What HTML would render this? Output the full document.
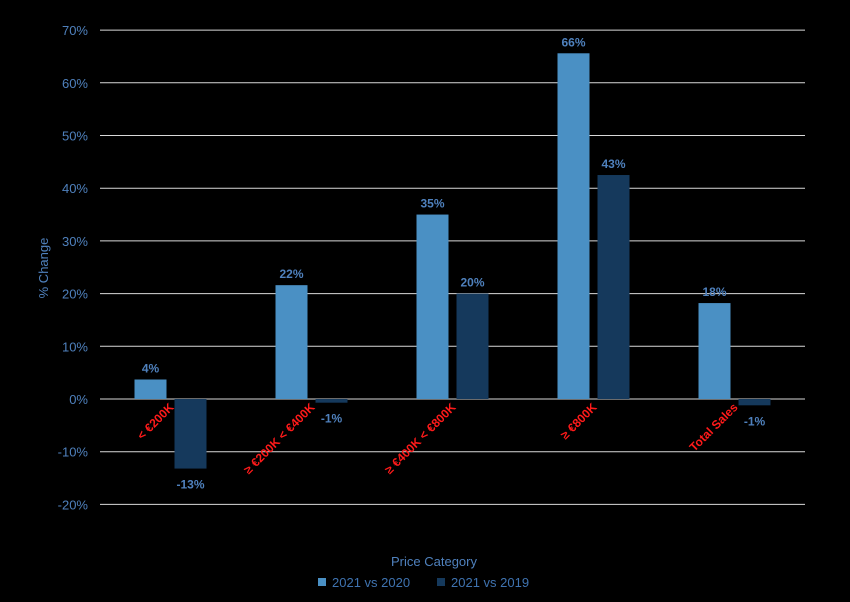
<!DOCTYPE html>
<html><head><meta charset="utf-8"><style>
body{margin:0;background:#000;}
svg{display:block;font-family:"Liberation Sans",Arial,sans-serif;}
</style></head><body>
<svg id="chart" width="850" height="602">
<g id="grid"></g><g id="bars"></g><g id="labels"></g>
<text x="48" y="268" transform="rotate(-90 48 268)" text-anchor="middle" fill="#4f81bd" font-size="13">% Change</text>
<text x="434" y="566" text-anchor="middle" fill="#4f81bd" font-size="13">Price Category</text>
<g>
<rect x="318" y="578" width="8" height="8" fill="#4a90c4"/>
<text x="332" y="587" fill="#3f73b0" font-size="13">2021 vs  2020</text>
<rect x="437" y="578" width="8" height="8" fill="#15395c"/>
<text x="451" y="587" fill="#3f73b0" font-size="13">2021 vs  2019</text>
</g>
</svg>
<script>
const categories=["< €200K","≥ €200K < €400K","≥ €400K < €800K","≥ €800K","Total Sales"];
const series2020=[3.7,21.6,35.0,65.6,18.2];
const series2019=[-13.2,-0.7,20.0,42.5,-1.2];
const labels2020=["4%","22%","35%","66%","18%"];
const labels2019=["-13%","-1%","20%","43%","-1%"];
const ticks=[70,60,50,40,30,20,10,0,-10,-20];
const NS="http://www.w3.org/2000/svg";
const x0=100,x1=805,gw=(x1-x0)/categories.length;
function y(v){return 399-v*5.27;}
function cx(i){return x0+gw*(i+0.5);}
function mk(tag,attrs,parent,txt){const e=document.createElementNS(NS,tag);for(const k in attrs)e.setAttribute(k,attrs[k]);if(txt!=null)e.textContent=txt;document.getElementById(parent).appendChild(e);return e;}
ticks.forEach(t=>{
 const l=mk('line',{x1:x0,x2:x1,y1:y(t),y2:y(t),stroke:'#d9d9d9','stroke-width':1},'grid');
 
 
 const tx=mk('text',{x:88,y:y(t)+5,'text-anchor':'end',fill:'#4f81bd','font-size':13},'grid',t+'%');
 
 
});
categories.forEach((c,i)=>{
 [[series2020,labels2020,'#4a90c4',-36,'#4f81bd'],[series2019,labels2019,'#15395c',4,'#4f81bd']].forEach(([s,lb,col,off,tc],k)=>{
  const v=s[i],yy=Math.min(y(v),y(0)),h=Math.abs(y(v)-y(0));
  const r=mk('rect',{x:cx(i)+off,y:yy,width:32,height:Math.max(h,1),fill:col},'bars');
  
  
  const ly=v>=0?y(v)-7:y(v)+20;
  const t=mk('text',{x:cx(i)+off+16,y:ly,'text-anchor':'middle',fill:tc,'font-size':12,'font-weight':'bold'},'labels',lb[i]);
  
  
 });
 const px=cx(i)+4,py=408;
 const t=mk('text',{x:px,y:py,'text-anchor':'end',fill:'#ff1a1a','font-size':12,'font-weight':'bold',transform:`rotate(-45 ${px} ${py})`},'labels',c);
 
 
});
</script>
</body></html>
